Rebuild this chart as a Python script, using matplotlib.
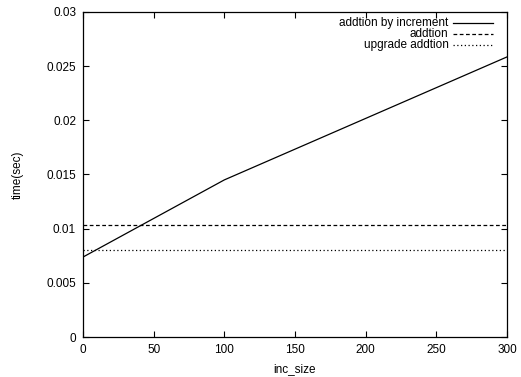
import matplotlib
matplotlib.use('Agg')
from matplotlib import pyplot as plt

# data
inc_size = [0, 100, 300]
incr_time = [0.00738, 0.01450, 0.02585]
add_x = [0, 300]
add_time = [0.01035, 0.01035]
upgrade_time = [0.00803, 0.00803]

x_ticks = [0, 50, 100, 150, 200, 250, 300]
y_ticks = [0, 0.005, 0.01, 0.015, 0.02, 0.025, 0.03]
y_labels = ['0', '0.005', '0.01', '0.015', '0.02', '0.025', '0.03']

labels = ['addtion by increment', 'addtion', 'upgrade addtion']

plt.rcParams['font.family'] = ['Liberation Sans', 'DejaVu Sans']
fs = 8.5

fig = plt.figure(figsize=(5.21, 3.77), dpi=100)
ax = fig.add_axes([0.1593, 0.1061, 0.8137, 0.8621])

lw = 0.9
ax.plot(inc_size, incr_time, color='black', lw=lw)
ax.plot(add_x, add_time, color='black', lw=lw, dashes=(3, 2))
ax.plot(add_x, upgrade_time, color='black', lw=lw, dashes=(1, 2))

ax.set_xlim(0, 300)
ax.set_ylim(0, 0.03)
ax.set_xticks(x_ticks)
ax.set_yticks(y_ticks)
ax.set_yticklabels(y_labels)
ax.tick_params(direction='in', length=4, width=0.8, top=True, right=True,
               pad=5, labelsize=fs)
for s in ax.spines.values():
    s.set_linewidth(0.9)

ax.set_xlabel('inc_size', fontsize=fs, labelpad=5)
ax.set_ylabel('time(sec)', fontsize=fs, labelpad=16)

# gnuplot-style key: right-aligned text, sample line on the right
styles = [dict(), dict(dashes=(3, 2)), dict(dashes=(1, 2))]
for i, (lab, st) in enumerate(zip(labels, styles)):
    yy = 0.965 - i * 0.033
    ax.text(0.862, yy, lab, transform=ax.transAxes, ha='right', va='center',
            fontsize=fs)
    ax.plot([0.872, 0.967], [yy, yy], transform=ax.transAxes,
            color='black', lw=lw, **st)

fig.savefig('out.png', dpi=100)
